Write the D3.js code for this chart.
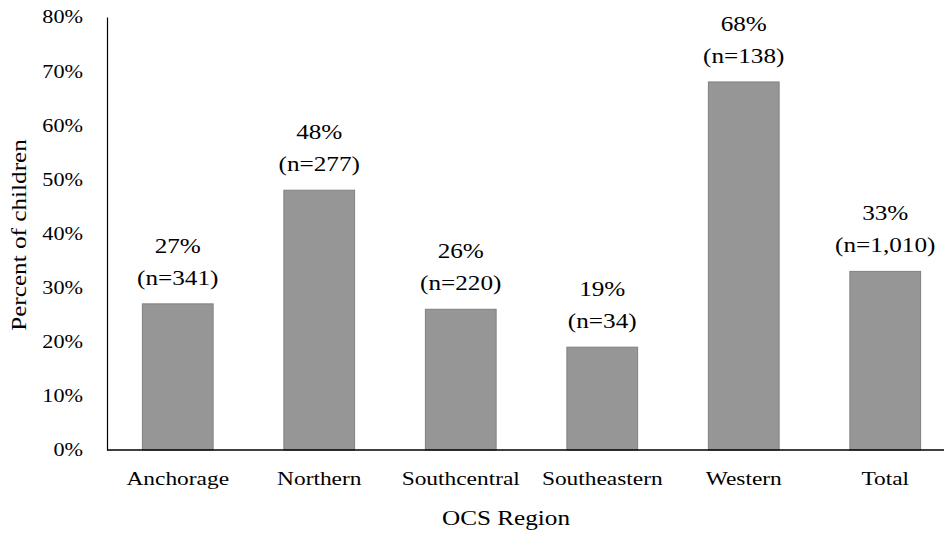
<!DOCTYPE html>
<html><head><meta charset="utf-8">
<script src="https://cdn.jsdelivr.net/npm/d3@7"></script>
<style>body{margin:0;background:#fff}text{font-family:"Liberation Serif","Times New Roman",serif;fill:#000}</style>
</head><body><svg id="c" width="944" height="534"></svg>
<script>
const categories = ["Anchorage","Northern","Southcentral","Southeastern","Western","Total"];
const values = [0.27, 0.48, 0.26, 0.19, 0.68, 0.33];
const pctLabels = ["27%","48%","26%","19%","68%","33%"];
const nLabels = ["(n=341)","(n=277)","(n=220)","(n=34)","(n=138)","(n=1,010)"];
const yTicks = [0,0.1,0.2,0.3,0.4,0.5,0.6,0.7,0.8];

const serif = '"Liberation Serif","Times New Roman",serif';
const sx = 1.2;
const svg = d3.select("#c");
const mLeft = 107, mRight = 956, mTop = 17, mBottom = 450;
const x = d3.scaleBand().domain(categories).range([mLeft,mRight]).paddingInner(0.5).paddingOuter(0.25);
const y = d3.scaleLinear().domain([0,0.8]).range([mBottom,mTop]);

svg.append("g").selectAll("rect").data(values).join("rect")
  .attr("x",(d,i)=>x(categories[i])).attr("width",x.bandwidth())
  .attr("y",d=>y(d)).attr("height",d=>y(0)-y(d))
  .attr("fill","#969696").attr("stroke","#808080").attr("stroke-width",1);

const ya = svg.append("g").attr("transform",`translate(${mLeft},0)`)
  .call(d3.axisLeft(y).tickValues(yTicks).tickFormat(d3.format(".0%")).tickSize(0).tickPadding(20));
ya.select(".domain").attr("stroke","#000").attr("stroke-width",1.2);
ya.selectAll("text").style("font-size","18.5px").style("font-family",serif).attr("fill","#000")
  .attr("transform",`scale(${sx},1)`);

const xa = svg.append("g").attr("transform",`translate(0,${mBottom})`)
  .call(d3.axisBottom(x).tickSize(0).tickPadding(21));
xa.select(".domain").remove();
xa.selectAll("text").style("font-size","19.5px").style("font-family",serif).attr("fill","#000")
  .attr("transform",`scale(${sx},1)`);
svg.append("line").attr("x1",mLeft).attr("x2",mRight).attr("y1",mBottom).attr("y2",mBottom).attr("stroke","#000").attr("stroke-width",1.6);

const lab = svg.append("g").selectAll("g").data(values).join("g")
  .attr("transform",(d,i)=>`translate(${x(categories[i])+x.bandwidth()/2},${y(d)})`);
lab.append("text").attr("text-anchor","middle").attr("y",-51).attr("transform",`scale(${sx},1)`)
  .style("font-size","21px").style("font-family",serif).text((d,i)=>pctLabels[i]);
lab.append("text").attr("text-anchor","middle").attr("y",-19).attr("transform",`scale(${sx},1)`)
  .style("font-size","21px").style("font-family",serif).text((d,i)=>nLabels[i]);

svg.append("text").attr("transform",`translate(506,525) scale(${sx},1)`).attr("text-anchor","middle")
  .style("font-size","21px").style("font-family",serif).text("OCS Region");
svg.append("text").attr("transform",`translate(26,235) rotate(-90) scale(${sx},1)`).attr("text-anchor","middle")
  .style("font-size","21px").style("font-family",serif).text("Percent of children");
</script></body></html>
